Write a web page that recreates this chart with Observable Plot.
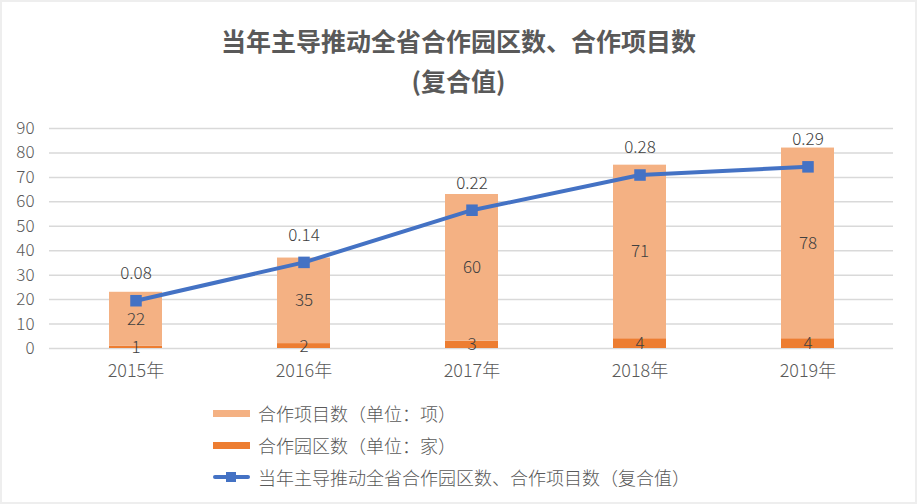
<!DOCTYPE html>
<html>
<head>
<meta charset="utf-8">
<script src="https://cdn.jsdelivr.net/npm/d3@7"></script>
<script src="https://cdn.jsdelivr.net/npm/@observablehq/plot@0.6"></script>
<style>
  html, body { margin: 0; padding: 0; }
  body { width: 917px; height: 504px; overflow: hidden; }
  #frame { position: relative; width: 917px; height: 504px; background: #EEEEEE; font-family: "Noto Sans CJK SC", "Noto Sans", sans-serif; color: #595959; }
  #white { position: absolute; left: 2px; top: 2px; width: 913px; height: 500px; background: #fff; }
  .title { position: absolute; left: 0; width: 917px; text-align: center; font-weight: bold; font-size: 25px; line-height: 40px; color: #595959; }
  #chart { position: absolute; left: 0; top: 100px; }
  #legend { position: absolute; left: 213px; top: 397px; font-size: 18px; font-weight: 300; }
  .row { display: flex; align-items: center; height: 32px; }
  .sw { width: 37px; height: 7px; margin-right: 8px; }
  .lsw { position: relative; width: 37px; height: 8px; margin-right: 8px; }
  .lsw .ln { position: absolute; left: 0; top: 2px; width: 37px; height: 4px; background: #4472C4; border-radius: 2px; }
  .lsw .mk { position: absolute; left: 13px; top: -1px; width: 10px; height: 10px; background: #4472C4; }
</style>
</head>
<body>
<div id="frame">
  <div id="white"></div>
  <div class="title" style="top:20px">当年主导推动全省合作园区数、合作项目数</div>
  <div class="title" style="top:60px">(复合值)</div>
  <div id="chart"></div>
  <div id="legend"></div>
</div>
<script>
const years = ["2015年", "2016年", "2017年", "2018年", "2019年"];
const projects = [22, 35, 60, 71, 78];
const parks = [1, 2, 3, 4, 4];
const composite = [0.076, 0.137, 0.22, 0.276, 0.289];
const yTicks = [0, 10, 20, 30, 40, 50, 60, 70, 80, 90];
const seriesNames = ["合作项目数（单位：项）", "合作园区数（单位：家）", "当年主导推动全省合作园区数、合作项目数（复合值）"];
const colors = ["#F4B183", "#ED7D31", "#4472C4"];
const secondaryMax = 0.35;

const barRows = [];
years.forEach((y, i) => {
  barRows.push({year: y, series: "parks", value: parks[i]});
  barRows.push({year: y, series: "projects", value: projects[i]});
});
const lineRows = years.map((y, i) => ({year: y, v: composite[i]}));
const k = 90 / secondaryMax;
const order = ["parks", "projects"];

const plot = Plot.plot({
  width: 917,
  height: 300,
  marginLeft: 49,
  marginRight: 24,
  marginTop: 28,
  marginBottom: 52,
  style: {fontFamily: '"Noto Sans CJK SC", "Noto Sans", sans-serif', fontSize: "17px", fontWeight: 300, color: "#595959", background: "transparent"},
  x: {domain: years, paddingInner: 0.686, paddingOuter: 0.343, label: null},
  y: {domain: [0, 90], label: null},
  color: {domain: order, range: [colors[1], colors[0]]},
  marks: [
    Plot.ruleY(yTicks, {stroke: "#D9D9D9", strokeWidth: 1.5}),
    Plot.axisY({ticks: yTicks, tickSize: 0, tickPadding: 15, fontSize: 17}),
    Plot.axisX({tickSize: 0, tickPadding: 16, fontSize: 18}),
    Plot.barY(barRows, Plot.stackY({x: "year", y: "value", z: "series", fill: "series", order})),
    Plot.text(barRows, Plot.stackY({x: "year", y: "value", z: "series", order, text: "value", fill: "#404040", fontSize: 17})),
    Plot.line(lineRows, {x: "year", y: d => d.v * k, stroke: colors[2], strokeWidth: 4}),
    Plot.dot(lineRows, {x: "year", y: d => d.v * k, symbol: "square", r: 6.5, fill: colors[2], stroke: "none"}),
    Plot.text(lineRows, {x: "year", y: d => d.v * k, text: d => d.v.toFixed(2), dy: -27, fill: "#404040", fontSize: 17})
  ]
});
document.getElementById("chart").appendChild(plot);

const legend = document.getElementById("legend");
seriesNames.forEach((name, i) => {
  const row = document.createElement("div");
  row.className = "row";
  if (i < 2) {
    row.innerHTML = `<div class="sw" style="background:${colors[i]}"></div><span>${name}</span>`;
  } else {
    row.innerHTML = `<div class="lsw"><div class="ln"></div><div class="mk"></div></div><span>${name}</span>`;
  }
  legend.appendChild(row);
});
</script>
</body>
</html>
